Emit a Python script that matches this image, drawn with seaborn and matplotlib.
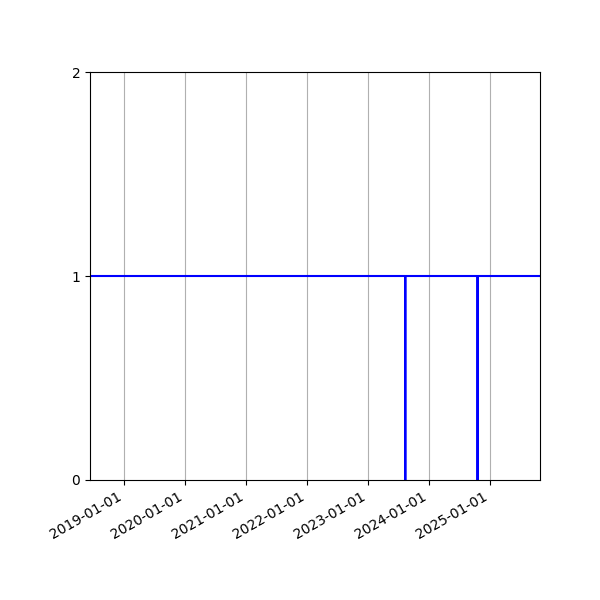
import pandas as pd
import seaborn as sns
import matplotlib
matplotlib.use('Agg')
import matplotlib.pyplot as plt
import matplotlib.dates as mdates

# points where the status changes
dates = ['2018-06-10', '2023-08-11', '2023-08-12', '2023-08-13',
         '2024-10-17', '2024-10-18', '2024-10-19', '2025-10-27']
status = [1, 1, 0, 1, 1, 0, 1, 1]

df = pd.DataFrame({'date': pd.to_datetime(dates), 'status': status})

fig, ax = plt.subplots(figsize=(6, 6), dpi=100)
sns.lineplot(data=df, x='date', y='status', color='blue', linewidth=1.5, ax=ax)

ax.set_xlim(df['date'].min(), df['date'].max())
ax.set_ylim(0, 2)
ax.set_yticks([0, 1, 2])
ax.xaxis.set_major_locator(mdates.YearLocator())
ax.xaxis.set_major_formatter(mdates.DateFormatter('%Y-%m-%d'))
ax.grid(True, axis='x')
ax.set_xlabel('')
ax.set_ylabel('')

fig.autofmt_xdate()
fig.subplots_adjust(left=0.15, right=0.9, top=0.88, bottom=0.2)
fig.savefig('out.png', dpi=100)
